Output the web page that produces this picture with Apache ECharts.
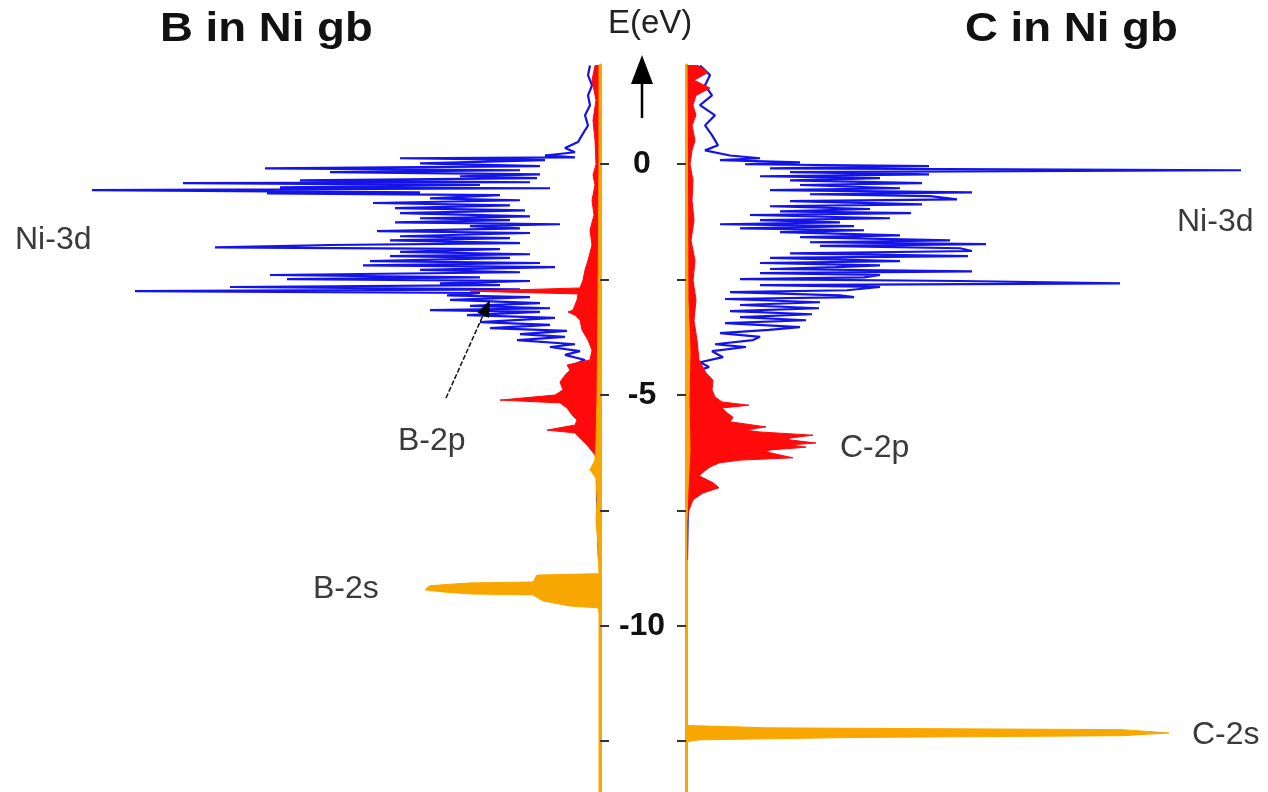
<!DOCTYPE html>
<html>
<head>
<meta charset="utf-8">
<script src="https://cdn.jsdelivr.net/npm/echarts@6/dist/echarts.min.js"></script>
<style>html,body{margin:0;padding:0;background:#fff;}#c{width:1268px;height:792px;}</style>
</head>
<body>
<div id="c"></div>
<script>
// Energy axis (eV)
const eMin = -13.6, eMax = 2.15;
const tickValues = [0, -2.5, -5, -7.5, -10, -12.5];
const labelValues = [0, -5, -10];

// ---- B in Ni gb ----
const bNi3dE = [2.14,1.93,1.71,1.49,1.28,1.06,0.84,0.63,0.48,0.35,
  0.26,0.19,0.15,0.13,0.09,0.02,-0.04,-0.09,-0.13,-0.17,
  -0.22,-0.26,-0.30,-0.35,-0.39,-0.41,-0.45,-0.50,-0.52,-0.56,
  -0.61,-0.63,-0.67,-0.74,-0.78,-0.84,-0.89,-0.95,-1.00,-1.06,
  -1.13,-1.17,-1.21,-1.26,-1.30,-1.34,-1.39,-1.45,-1.49,-1.56,
  -1.60,-1.65,-1.71,-1.75,-1.80,-1.84,-1.90,-1.95,-1.99,-2.03,
  -2.10,-2.14,-2.19,-2.23,-2.29,-2.34,-2.40,-2.45,-2.49,-2.53,
  -2.58,-2.62,-2.66,-2.71,-2.75,-2.79,-2.84,-2.88,-2.94,-3.01,
  -3.07,-3.12,-3.16,-3.20,-3.27,-3.33,-3.42,-3.48,-3.55,-3.61,
  -3.68,-3.74,-3.81,-3.90,-3.96,-4.05,-4.13,-4.24,-4.35,-4.46,
  -4.57,-4.68,-4.78,-4.94,-5.11,-6.19,-7.27,-8.57];
const bNi3dDos = [1.0,1.2,0.8,1.2,1.0,1.5,1.2,1.8,2.2,3.5,
  2.5,5.5,2.5,20.0,5.5,18.0,6.0,33.5,8.0,27.0,
  6.0,14.0,6.3,30.0,7.0,41.7,12.0,32.0,5.0,50.8,
  18.0,33.3,10.0,17.0,8.0,22.7,9.0,20.5,7.5,20.0,
  7.0,18.0,9.0,20.5,4.0,13.0,8.0,22.3,7.0,20.0,
  9.0,21.0,8.0,27.0,38.5,10.0,20.0,7.0,21.0,9.0,
  23.0,6.0,23.7,4.5,18.0,8.0,33.0,12.0,31.3,7.0,
  16.0,10.0,37.0,8.0,46.5,12.0,15.3,7.0,15.0,6.0,
  13.0,5.0,17.0,6.0,13.3,4.5,12.0,5.0,11.0,3.3,
  8.0,3.5,8.3,2.5,5.0,2.0,3.5,1.5,2.7,1.2,
  1.7,0.8,1.0,0.5,0.4,0.3,0.3,0.1];

const b2pE = [2.14,1.82,1.39,0.95,0.52,0.00,-0.24,-0.45,-0.78,-1.10,
  -1.43,-1.75,-2.08,-2.29,-2.51,-2.68,-2.75,-2.81,-2.94,-3.05,
  -3.16,-3.20,-3.27,-3.38,-3.59,-3.81,-4.03,-4.24,-4.35,-4.46,
  -4.57,-4.72,-4.89,-5.00,-5.11,-5.17,-5.28,-5.43,-5.54,-5.65,
  -5.76,-5.82,-5.93,-6.08,-6.30,-6.62,-6.84];
const b2pDos = [0.5,0.8,0.4,0.7,0.5,0.4,0.7,0.5,0.8,0.6,
  1.0,0.8,1.2,1.5,1.7,2.0,13.0,2.2,2.3,2.5,
  2.7,3.2,2.5,2.0,1.8,1.2,0.8,1.0,3.3,3.0,
  3.5,4.0,3.7,4.5,10.0,4.0,3.3,2.8,2.3,2.5,
  5.3,2.5,2.0,1.3,0.5,0.2,0.1];

const b2sE = [2.14,0.00,-2.94,-5.11,-5.97,-6.41,-6.62,-6.80,-7.27,-7.71,
  -8.25,-8.87,-8.90,-9.05,-9.07,-9.13,-9.22,-9.26,-9.31,-9.33,
  -9.46,-9.57,-9.61,-9.70,-13.6];
const b2sDos = [0.1,0.1,0.2,0.3,0.4,0.5,1.0,0.4,0.3,0.4,
  0.2,0.1,6.3,6.7,13.0,17.0,17.5,16.0,13.0,6.7,
  5.7,3.0,0.2,0.1,0.1];

// ---- C in Ni gb ----
const cNi3dE = [2.14,1.93,1.71,1.49,1.28,1.06,0.84,0.63,0.41,0.30,
  0.19,0.13,0.09,0.04,0.00,-0.04,-0.09,-0.13,-0.17,-0.22,
  -0.26,-0.30,-0.35,-0.41,-0.45,-0.52,-0.56,-0.61,-0.65,-0.69,
  -0.76,-0.80,-0.87,-0.91,-0.97,-1.02,-1.06,-1.10,-1.17,-1.21,
  -1.26,-1.30,-1.34,-1.39,-1.43,-1.47,-1.54,-1.58,-1.65,-1.69,
  -1.73,-1.77,-1.82,-1.88,-1.93,-1.99,-2.03,-2.10,-2.14,-2.19,
  -2.23,-2.27,-2.32,-2.36,-2.40,-2.45,-2.49,-2.53,-2.58,-2.62,
  -2.66,-2.73,-2.77,-2.84,-2.88,-2.92,-2.99,-3.05,-3.12,-3.18,
  -3.25,-3.31,-3.38,-3.44,-3.53,-3.59,-3.66,-3.74,-3.81,-3.90,
  -3.96,-4.05,-4.18,-4.29,-4.39,-4.50,-4.61,-4.78,-5.11,-6.19,
  -7.27,-8.57];
const cNi3dDos = [1.4,2.4,1.9,2.6,1.4,2.9,1.9,2.6,3.2,1.9,
  4.4,7.4,3.4,11.4,5.9,24.3,8.4,55.5,10.4,24.3,
  7.4,19.4,10.4,23.6,11.4,21.4,8.4,28.6,12.4,24.4,
  27.1,10.4,23.6,8.4,18.4,9.4,22.5,6.4,20.4,7.4,
  15.4,3.4,16.8,5.4,17.8,9.4,21.4,11.4,26.4,12.4,
  30.0,13.4,27.4,28.6,10.4,28.2,8.4,21.4,7.4,19.4,
  15.0,8.4,28.6,7.4,19.4,17.8,5.4,27.4,43.4,7.4,
  19.4,16.1,4.4,15.4,16.8,3.9,13.4,5.4,13.3,4.4,
  12.6,5.4,12.0,3.9,11.4,8.3,3.4,7.4,6.7,2.9,
  6.0,2.6,3.7,1.4,2.3,0.9,1.0,0.6,0.4,0.3,
  0.2,0.1];

const c2pE = [2.14,1.99,1.82,1.65,1.49,1.28,1.06,0.84,0.52,0.30,
  0.00,-0.35,-0.78,-1.21,-1.65,-2.08,-2.51,-2.94,-3.38,-3.81,
  -4.24,-4.52,-4.68,-4.89,-5.04,-5.15,-5.22,-5.28,-5.37,-5.48,
  -5.58,-5.69,-5.76,-5.80,-5.87,-5.93,-5.97,-6.04,-6.08,-6.13,
  -6.19,-6.23,-6.30,-6.36,-6.41,-6.47,-6.56,-6.62,-6.75,-6.90,
  -7.01,-7.12,-7.27,-7.49,-7.71];
const c2pDos = [1.2,2.2,0.8,2.4,1.0,0.7,1.0,0.6,0.9,0.6,
  0.4,0.7,0.6,0.8,0.5,0.9,0.7,1.0,0.8,1.1,
  1.3,2.0,2.7,2.6,2.9,3.6,6.3,3.6,4.0,4.7,
  4.4,8.0,5.9,7.4,12.7,10.4,10.3,13.0,10.4,12.0,
  8.4,8.0,9.4,10.7,5.4,3.3,2.4,2.0,1.3,2.7,
  3.3,1.7,0.7,0.3,0.1];

const c2sE = [2.14,-2.94,-4.03,-5.11,-6.19,-7.06,-7.71,-12.16,-12.19,-12.21,
  -12.25,-12.32,-12.38,-12.42,-12.47,-12.51,-13.6];
const c2sDos = [0.1,0.2,0.4,0.3,0.4,0.2,0.1,0.1,5.4,8.0,
  43.6,48.3,43.6,16.4,1.4,0.1,0.1];

const BLUE = '#1414e8', RED = '#ff0a0a', ORANGE = '#f8a700';

function pairs(E, D) {
  const n = Math.min(E.length, D.length);
  const out = [];
  for (let i = 0; i < n; i++) out.push([D[i], E[i]]);
  return out;
}
function lineSeries(E, D, idx) {
  return {
    type: 'line', xAxisIndex: idx, yAxisIndex: idx, data: pairs(E, D),
    showSymbol: false, symbol: 'none', silent: true, z: 3,
    lineStyle: { color: BLUE, width: 2.2 }
  };
}
function fillSeries(E, D, color, idx, z) {
  const pts = pairs(E, D);
  return {
    type: 'custom', xAxisIndex: idx, yAxisIndex: idx, data: pts, clip: true, silent: true, z: z,
    renderItem: function (params, api) {
      if (params.dataIndex !== 0) return null;
      const poly = [api.coord([0, pts[0][1]])];
      for (const p of pts) poly.push(api.coord(p));
      poly.push(api.coord([0, pts[pts.length - 1][1]]));
      return { type: 'polygon', shape: { points: poly }, style: { fill: color, stroke: color, lineWidth: 1 } };
    }
  };
}

function txt(x, y, s, font, fill, sx) {
  return { type: 'text', x: x, y: y, scaleX: sx || 1, z: 20,
    style: { text: s, font: font, fill: fill, align: 'left', verticalAlign: 'middle', textAlign: 'left', textVerticalAlign: 'middle' } };
}
const labelFont = '32px "Liberation Sans", Arial, sans-serif';
const titleFont = 'bold 40px "Liberation Sans", Arial, sans-serif';

const yCommon = {
  type: 'value', min: eMin, max: eMax,
  splitLine: { show: false },
  axisLine: { show: true, onZero: false, lineStyle: { color: ORANGE, width: 3 } },
  axisTick: { show: true, customValues: tickValues, length: 9, lineStyle: { color: '#333', width: 2 } }
};

const chart = echarts.init(document.getElementById('c'), null, { renderer: 'canvas' });
chart.setOption({
  animation: false,
  backgroundColor: '#fff',
  grid: [
    { left: 0, top: 65, width: 600, height: 727.65 },
    { left: 686, top: 65, width: 582, height: 727.65 }
  ],
  xAxis: [
    { gridIndex: 0, type: 'value', min: 0, max: 60, inverse: true, show: false },
    { gridIndex: 1, type: 'value', min: 0, max: 58.2, show: false }
  ],
  yAxis: [
    Object.assign({}, yCommon, { gridIndex: 0, position: 'right',
      axisLabel: { show: true, customValues: labelValues, margin: 42, align: 'center',
        fontSize: 32, fontWeight: 'bold', color: '#111', fontFamily: '"Liberation Sans", Arial, sans-serif' } }),
    Object.assign({}, yCommon, { gridIndex: 1, position: 'left', axisLabel: { show: false } })
  ],
  series: [
    lineSeries(bNi3dE, bNi3dDos, 0),
    fillSeries(b2pE, b2pDos, RED, 0, 4),
    fillSeries(b2sE, b2sDos, ORANGE, 0, 5),
    lineSeries(cNi3dE, cNi3dDos, 1),
    fillSeries(c2pE, c2pDos, RED, 1, 4),
    fillSeries(c2sE, c2sDos, ORANGE, 1, 5)
  ],
  graphic: [
    txt(160, 30, 'B in Ni gb', titleFont, '#111', 1.14),
    txt(965, 30, 'C in Ni gb', titleFont, '#111', 1.14),
    txt(608, 24, 'E(eV)', '33px "Liberation Sans", Arial, sans-serif', '#222', 1),
    txt(15, 240, 'Ni-3d', labelFont, '#3a3a3a'),
    txt(398, 441, 'B-2p', labelFont, '#3a3a3a'),
    txt(313, 589, 'B-2s', labelFont, '#3a3a3a'),
    txt(1177, 222, 'Ni-3d', labelFont, '#3a3a3a'),
    txt(840, 448, 'C-2p', labelFont, '#3a3a3a'),
    txt(1192, 735, 'C-2s', labelFont, '#3a3a3a'),
    { type: 'line', z: 20, shape: { x1: 642, y1: 118, x2: 642, y2: 80 }, style: { stroke: '#000', lineWidth: 2.5 } },
    { type: 'polygon', z: 20, shape: { points: [[642, 55], [631, 84], [653, 84]] }, style: { fill: '#000' } },
    { type: 'line', z: 20, shape: { x1: 446, y1: 398, x2: 485, y2: 311 }, style: { stroke: '#111', lineWidth: 1.5, lineDash: [5, 2] } },
    { type: 'polygon', z: 20, shape: { points: [[490, 300], [489, 318], [477.5, 312.5]] }, style: { fill: '#000' } }
  ]
});
</script>
</body>
</html>
